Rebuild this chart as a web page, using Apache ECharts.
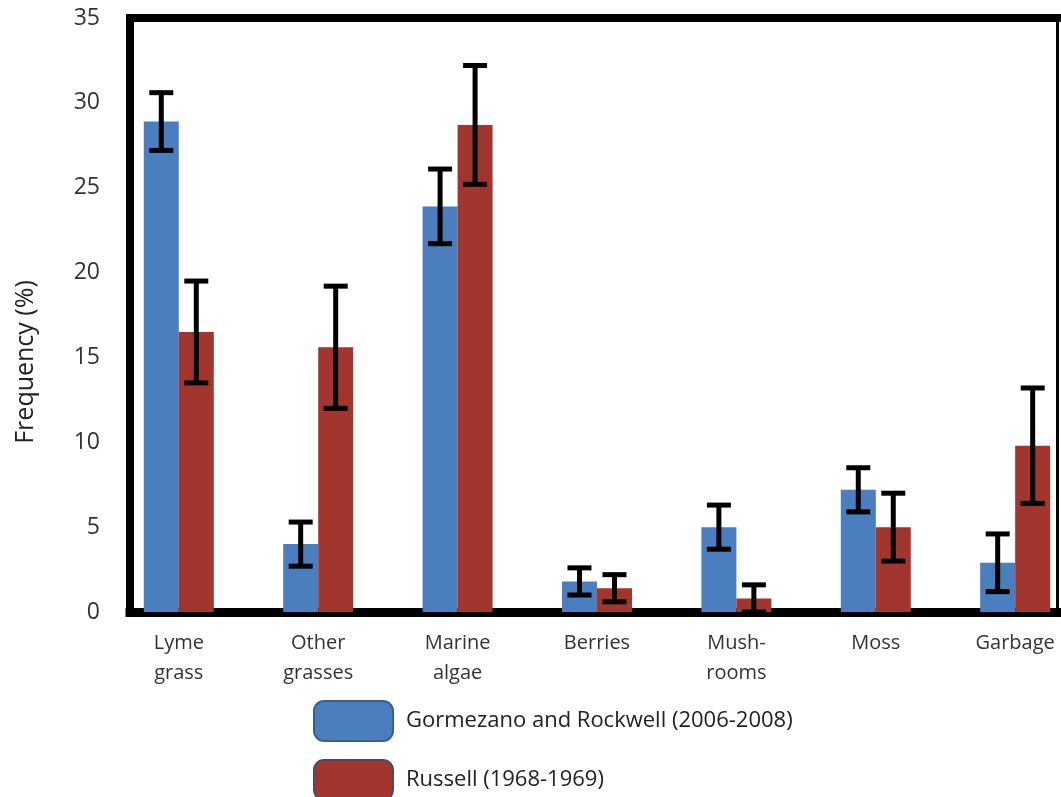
<!DOCTYPE html>
<html>
<head>
<meta charset="utf-8">
<script src="https://cdn.jsdelivr.net/npm/echarts@6/dist/echarts.min.js"></script>
<style>
  html, body { margin: 0; padding: 0; background: #fff; }
</style>
</head>
<body>
<div id="main" style="width: 1061px; height: 797px;"></div>
<script>
// food categories
var categories = ['Lyme\ngrass', 'Other\ngrasses', 'Marine\nalgae', 'Berries', 'Mush-\nrooms', 'Moss', 'Garbage']
var seriesNames = ['Gormezano and Rockwell (2006-2008)', 'Russell (1968-1969)']
// frequency (%)
var gormezano = [28.9, 4.0, 23.9, 1.8, 5.0, 7.2, 2.9]
var gormezanoErr = [1.7, 1.3, 2.2, 0.8, 1.3, 1.3, 1.7]
var russell = [16.5, 15.6, 28.7, 1.4, 0.8, 5.0, 9.8]
var russellErr = [3.0, 3.6, 3.5, 0.8, 0.8, 2.0, 3.4]
var yTicks = [0, 5, 10, 15, 20, 25, 30, 35]

var catIndex = categories.map(function (c, i) { return i })
var barW = 35

function barData(vals) {
  return vals.map(function (v, i) { return [i, v] })
}
function errData(vals, errs) {
  return vals.map(function (v, i) { return [i, v, errs[i]] })
}
function errRender(shift) {
  return function (params, api) {
    var x = api.value(0)
    var v = api.value(1)
    var e = api.value(2)
    var top = api.coord([x, v + e])
    var bot = api.coord([x, Math.max(v - e, 0)])
    var cx = top[0] + shift
    var st = { stroke: '#000', lineWidth: 5 }
    return {
      type: 'group',
      children: [
        { type: 'line', shape: { x1: cx, y1: top[1], x2: cx, y2: bot[1] }, style: st },
        { type: 'line', shape: { x1: cx - 12, y1: top[1], x2: cx + 12, y2: top[1] }, style: st },
        { type: 'line', shape: { x1: cx - 12, y1: bot[1], x2: cx + 12, y2: bot[1] }, style: st }
      ]
    }
  }
}

var myChart = echarts.init(document.getElementById('main'))
var fontFam = '"Open Sans", sans-serif'
var option = {
  animation: false,
  textStyle: { fontFamily: fontFam },
  grid: { left: 130, right: 4, top: 18, bottom: 185 },
  legend: {
    orient: 'vertical',
    left: 313,
    top: 700,
    height: 140,
    padding: 0,
    itemWidth: 79,
    itemHeight: 40,
    itemGap: 17,
    icon: 'roundRect',
    textStyle: { fontSize: 22, color: '#222', padding: [0, 0, 0, 8], fontFamily: fontFam },
    data: [
      { name: seriesNames[0], itemStyle: { borderColor: '#3b5f8c', borderWidth: 2 } },
      { name: seriesNames[1], itemStyle: { borderColor: '#3e4f70', borderWidth: 2 } }
    ]
  },
  xAxis: [
    {
      type: 'value',
      min: -0.35,
      max: 6.3,
      position: 'bottom',
      splitLine: { show: false },
      axisTick: { show: false },
      axisLine: { show: true, onZero: false, lineStyle: { color: '#000', width: 9, cap: 'square' } },
      axisLabel: {
        customValues: catIndex,
        formatter: function (v) { return categories[Math.round(v)] },
        fontSize: 20,
        lineHeight: 30,
        color: '#333',
        margin: 16,
        verticalAlign: 'top'
      }
    },
    {
      type: 'value',
      min: -0.35,
      max: 6.3,
      position: 'top',
      splitLine: { show: false },
      axisTick: { show: false },
      axisLabel: { show: false },
      axisLine: { show: true, onZero: false, lineStyle: { color: '#000', width: 8, cap: 'square' } }
    }
  ],
  yAxis: [
    {
      type: 'value',
      min: 0,
      max: 35,
      interval: 5,
      name: 'Frequency (%)',
      nameLocation: 'middle',
      nameGap: 92,
      nameTextStyle: { fontSize: 25, color: '#222', padding: [0, 94, 0, 0] },
      splitLine: { show: false },
      axisTick: { show: false },
      axisLine: { show: true, onZero: false, lineStyle: { color: '#000', width: 8, cap: 'square' } },
      axisLabel: {
        customValues: yTicks,
        fontSize: 23,
        color: '#333',
        margin: 30
      }
    },
    {
      type: 'value',
      min: 0,
      max: 35,
      position: 'right',
      splitLine: { show: false },
      axisTick: { show: false },
      axisLabel: { show: false },
      axisLine: { show: true, onZero: false, lineStyle: { color: '#000', width: 3 } }
    }
  ],
  series: [
    {
      name: seriesNames[0],
      type: 'bar',
      barWidth: barW,
      barGap: '0%',
      itemStyle: { color: '#4a7ebf' },
      data: barData(gormezano)
    },
    {
      name: seriesNames[1],
      type: 'bar',
      barWidth: barW,
      barGap: '0%',
      itemStyle: { color: '#a3352f' },
      data: barData(russell)
    },
    {
      type: 'custom',
      renderItem: errRender(-barW / 2),
      data: errData(gormezano, gormezanoErr),
      z: 10
    },
    {
      type: 'custom',
      renderItem: errRender(barW / 2),
      data: errData(russell, russellErr),
      z: 10
    }
  ]
}
option && myChart.setOption(option)
</script>
</body>
</html>
